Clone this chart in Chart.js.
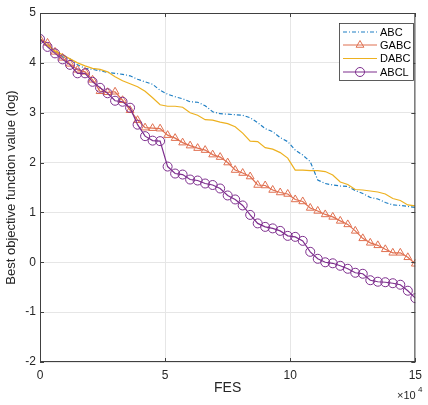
<!DOCTYPE html>
<html>
<head>
<meta charset="utf-8">
<script src="https://cdn.jsdelivr.net/npm/chart.js@4.4.0/dist/chart.umd.min.js"></script>
<style>
  html, body { margin: 0; padding: 0; background: #fff; }
</style>
</head>
<body>
<canvas id="plot" width="428" height="405"></canvas>
<script>
// FES in units of 1e4
var fes = [0, 0.3, 0.6, 0.9, 1.2, 1.5, 1.8, 2.1, 2.4, 2.7, 3.0, 3.3, 3.6, 3.9, 4.2, 4.5, 4.8,
  5.1, 5.4, 5.7, 6.0, 6.3, 6.6, 6.9, 7.2, 7.5, 7.8, 8.1, 8.4, 8.7, 9.0, 9.3, 9.6, 9.9,
  10.2, 10.5, 10.8, 11.1, 11.4, 11.7, 12.0, 12.3, 12.6, 12.9, 13.2, 13.5, 13.8, 14.1, 14.4, 14.7, 15.0];

var abc = [4.48, 4.35, 4.22, 4.12, 4.08, 3.96, 3.89, 3.87, 3.84, 3.81, 3.79, 3.77, 3.74, 3.67, 3.62, 3.57, 3.45,
  3.37, 3.32, 3.28, 3.22, 3.21, 3.14, 3.02, 2.98, 2.97, 2.96, 2.95, 2.90, 2.80, 2.68, 2.62, 2.50, 2.42,
  2.25, 2.15, 2.02, 1.65, 1.58, 1.55, 1.53, 1.52, 1.44, 1.38, 1.30, 1.27, 1.20, 1.15, 1.14, 1.12, 1.10];

var gabc = [4.48, 4.40, 4.22, 4.10, 3.98, 3.86, 3.82, 3.66, 3.43, 3.41, 3.42, 3.25, 3.05, 2.85, 2.70, 2.69, 2.68,
  2.55, 2.49, 2.40, 2.34, 2.29, 2.25, 2.16, 2.11, 2.00, 1.85, 1.79, 1.72, 1.55, 1.54, 1.45, 1.40, 1.37,
  1.26, 1.22, 1.09, 1.03, 0.96, 0.91, 0.83, 0.76, 0.63, 0.48, 0.39, 0.34, 0.26, 0.19, 0.19, 0.10, -0.03];

var dabc = [4.48, 4.35, 4.24, 4.16, 4.08, 4.00, 3.94, 3.89, 3.87, 3.82, 3.72, 3.64, 3.58, 3.52, 3.43, 3.30, 3.16,
  3.13, 3.13, 3.11, 3.00, 2.95, 2.86, 2.85, 2.81, 2.78, 2.72, 2.59, 2.43, 2.42, 2.30, 2.27, 2.20, 2.09,
  1.85, 1.85, 1.84, 1.84, 1.82, 1.75, 1.61, 1.56, 1.46, 1.45, 1.43, 1.41, 1.37, 1.28, 1.24, 1.15, 1.13];

var abcl = [4.48, 4.32, 4.19, 4.07, 3.96, 3.79, 3.79, 3.62, 3.50, 3.39, 3.24, 3.22, 3.10, 2.76, 2.53, 2.44, 2.43,
  1.92, 1.78, 1.76, 1.66, 1.64, 1.58, 1.55, 1.48, 1.34, 1.26, 1.14, 0.95, 0.78, 0.71, 0.68, 0.63, 0.53,
  0.51, 0.43, 0.21, 0.07, 0.00, -0.02, -0.07, -0.13, -0.21, -0.23, -0.36, -0.39, -0.40, -0.42, -0.45, -0.57, -0.72];

var xTicks = [0, 5, 10, 15];
var yTicks = [-2, -1, 0, 1, 2, 3, 4, 5];

var FONT = 'Liberation Sans, Arial, Helvetica, sans-serif';
var AXIS = '#404040';

function pts(ys) {
  return fes.map(function (x, i) { return { x: x, y: ys[i] }; });
}

var series = [
  { label: 'ABC', data: pts(abc), color: '#1f7fc4', dash: [4, 2, 1, 2], style: false, order: 4 },
  { label: 'GABC', data: pts(gabc), color: '#e07050', dash: [], style: 'triangle', order: 3 },
  { label: 'DABC', data: pts(dabc), color: '#edb120', dash: [], style: false, order: 2 },
  { label: 'ABCL', data: pts(abcl), color: '#7e2f8e', dash: [], style: 'circle', order: 1 }
];

// box, inward ticks, legend and the x10^4 note
var matlabBits = {
  id: 'matlabBits',
  afterDraw: function (chart) {
    var ctx = chart.ctx, a = chart.chartArea;
    var xs = chart.scales.x, ys = chart.scales.y;
    ctx.save();
    ctx.strokeStyle = AXIS;
    ctx.lineWidth = 1;
    ctx.strokeRect(a.left + 0.5, a.top + 0.5, a.right - a.left - 1, a.bottom - a.top - 1);
    ctx.beginPath();
    xTicks.forEach(function (v) {
      var px = Math.round(xs.getPixelForValue(v)) + 0.5;
      ctx.moveTo(px, a.bottom); ctx.lineTo(px, a.bottom - 4);
      ctx.moveTo(px, a.top); ctx.lineTo(px, a.top + 4);
    });
    yTicks.forEach(function (v) {
      var py = Math.round(ys.getPixelForValue(v)) + 0.5;
      ctx.moveTo(a.left, py); ctx.lineTo(a.left + 4, py);
      ctx.moveTo(a.right, py); ctx.lineTo(a.right - 4, py);
    });
    ctx.stroke();

    // legend
    var lx = 339.5, ly = 23.5, lw = 74, lh = 57;
    ctx.fillStyle = '#fff';
    ctx.fillRect(lx, ly, lw, lh);
    ctx.strokeStyle = '#333';
    ctx.lineWidth = 0.8;
    ctx.strokeRect(lx, ly, lw, lh);
    var rows = [32, 45, 58.5, 72];
    series.forEach(function (s, i) {
      var y = rows[i];
      ctx.strokeStyle = s.color;
      ctx.lineWidth = 1.2;
      ctx.setLineDash(s.dash);
      ctx.beginPath();
      ctx.moveTo(343, y); ctx.lineTo(377, y);
      ctx.stroke();
      ctx.setLineDash([]);
      if (s.style) {
        ctx.fillStyle = 'rgba(0,0,0,0)';
        ctx.lineWidth = 1;
        Chart.helpers.drawPoint(ctx, { pointStyle: s.style, radius: 4.5, borderWidth: 1 }, 360, y);
      }
      ctx.font = '11px ' + FONT;
      ctx.textBaseline = 'middle';
      ctx.textAlign = 'left';
      ctx.fillStyle = '#000';
      ctx.fillText(s.label, 380, y + 0.5);
    });

    // x10^4
    ctx.fillStyle = '#262626';
    ctx.font = '11px ' + FONT;
    ctx.textAlign = 'left';
    ctx.textBaseline = 'middle';
    ctx.fillText('\u00d710', 397, 396);
    ctx.font = '8px ' + FONT;
    ctx.fillText('4', 418, 390);
    ctx.restore();
  }
};

new Chart(document.getElementById('plot'), {
  type: 'line',
  data: {
    datasets: series.map(function (s) {
      return {
        label: s.label,
        data: s.data,
        borderColor: s.color,
        backgroundColor: 'rgba(0,0,0,0)',
        borderWidth: 1.2,
        borderDash: s.dash,
        pointStyle: s.style || 'circle',
        pointRadius: s.style ? 4.5 : 0,
        pointBorderWidth: 1,
        pointBorderColor: s.color,
        pointBackgroundColor: 'rgba(0,0,0,0)',
        tension: 0,
        fill: false,
        order: s.order
      };
    })
  },
  options: {
    responsive: false,
    animation: false,
    layout: { padding: { left: 0, right: 5, top: 13, bottom: 0 } },
    plugins: {
      legend: { display: false },
      tooltip: { enabled: false }
    },
    scales: {
      x: {
        type: 'linear',
        min: 0, max: 15,
        afterFit: function (s) { s.height = 43; },
        afterBuildTicks: function (s) { s.ticks = xTicks.map(function (v) { return { value: v }; }); },
        ticks: { color: '#262626', font: { family: FONT, size: 12 }, padding: 6, maxRotation: 0 },
        grid: { color: '#e6e6e6', drawTicks: false },
        border: { display: false },
        title: { display: true, text: 'FES', color: '#262626', font: { family: FONT, size: 14 }, padding: { top: 0, bottom: 8 } }
      },
      y: {
        min: -2, max: 5,
        afterFit: function (s) { s.width = 40; },
        afterBuildTicks: function (s) { s.ticks = yTicks.map(function (v) { return { value: v }; }); },
        ticks: { color: '#262626', font: { family: FONT, size: 12 }, padding: 4 },
        grid: { color: '#e6e6e6', drawTicks: false },
        border: { display: false },
        title: { display: true, text: 'Best objective function value (log)', color: '#262626', font: { family: FONT, size: 13 }, padding: { top: 4, bottom: 0 } }
      }
    }
  },
  plugins: [matlabBits]
});
</script>
</body>
</html>
